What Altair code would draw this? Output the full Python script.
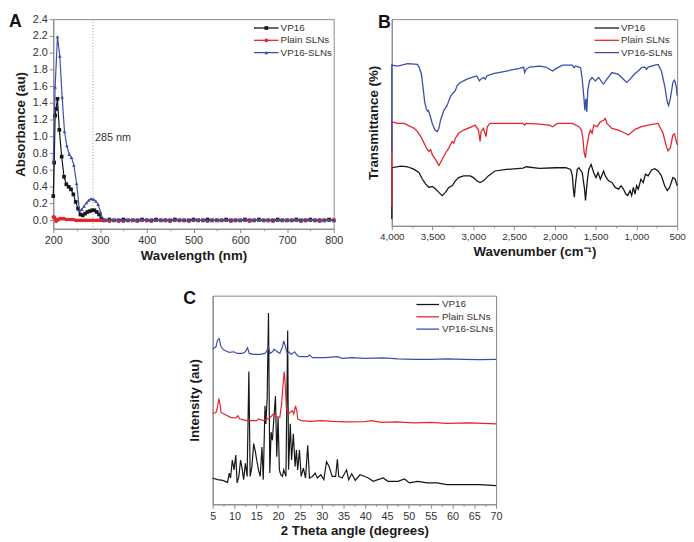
import altair as alt
import pandas as pd

SERIES = ["VP16", "Plain SLNs", "VP16-SLNs"]
COLORS = ["#161616", "#e4252b", "#3d4ea6"]
SHAPES = ["square", "circle", "triangle-up"]

# ---------------- Panel A : UV absorbance ----------------
TAIL_NM = [320, 330, 340, 350, 360, 370, 380, 390, 400, 410, 420, 430, 440, 450,
           460, 470, 480, 490, 500, 510, 520, 530, 540, 550, 560, 570, 580, 590,
           600, 610, 620, 630, 640, 650, 660, 670, 680, 690, 700, 710, 720, 730,
           740, 750, 760, 770, 780, 790, 800]

A_VP16_NM = [200, 202, 204, 206, 209, 213, 218, 223, 228, 233, 238, 243, 248,
             253, 258, 263, 268, 273, 278, 283, 288, 293, 298, 303, 308] + TAIL_NM
A_VP16_ABS = [0.29, 0.69, 1.25, 1.33, 1.45, 1.08, 0.76, 0.52, 0.43, 0.40, 0.37, 0.31, 0.22,
              0.14, 0.07, 0.06, 0.08, 0.10, 0.11, 0.12, 0.12, 0.10, 0.07, 0.02, 0.00,
              0.01, 0.00, 0.00, 0.01, 0.00, 0.00, 0.00,
              0.01, 0.00, 0.00, 0.01, 0.00, 0.00, 0.00,
              0.01, 0.00, 0.00, 0.00, 0.01, 0.00, 0.00,
              0.01, 0.00, 0.00, 0.00, 0.01, 0.00, 0.00,
              0.00, 0.01, 0.00, 0.00, 0.01, 0.00, 0.00,
              0.00, 0.01, 0.00, 0.00, 0.00, 0.01, 0.00,
              0.00, 0.01, 0.00, 0.00, 0.00, 0.01, 0.00]

A_PLAIN_NM = [200, 202, 204, 206, 208, 211, 214, 218, 223, 228, 233, 238, 243, 248,
              253, 258, 263, 268, 273, 278, 283, 288, 293, 298, 303, 308, 313] + TAIL_NM
A_PLAIN_ABS = [0.04, 0.04, 0.02, -0.01, 0.00, 0.01, 0.02, 0.02, 0.02, 0.01, 0.01, 0.01, 0.01, 0.00,
               0.00, 0.00, 0.00, 0.00, 0.00, 0.00, 0.00, 0.00, 0.00, 0.00, 0.00, 0.00, 0.00,
               -0.01, 0.00, -0.01, -0.01, 0.00, 0.00, -0.01,
               0.00, 0.00, -0.01, 0.00, 0.00, 0.00, -0.01,
               0.00, 0.00, 0.00, -0.01, 0.00, 0.00, 0.00,
               -0.01, 0.00, 0.00, 0.00, 0.00, -0.01, 0.00,
               0.00, 0.00, -0.01, 0.00, 0.00, 0.00, 0.00,
               -0.01, 0.00, 0.00, 0.00, 0.00, 0.00, -0.01,
               0.00, 0.00, 0.00, -0.01, 0.00, 0.00, 0.00]

A_SLN_NM = [200, 204, 209, 214, 219, 224, 229, 234, 239, 244, 250, 256, 261, 266,
            271, 276, 281, 286, 291, 296, 301, 306, 311] + TAIL_NM
A_SLN_ABS = [0.70, 1.59, 2.19, 1.96, 1.47, 1.06, 0.89, 0.79, 0.75, 0.66, 0.44, 0.12, 0.13, 0.17,
             0.21, 0.24, 0.26, 0.25, 0.23, 0.19, 0.10, 0.02, 0.00,
             0.01, 0.00, 0.01, 0.00, 0.00, 0.01, 0.00,
             0.00, 0.01, 0.00, 0.00, 0.00, 0.01, 0.00,
             0.00, 0.01, 0.00, 0.00, 0.00, 0.01, 0.00,
             0.00, 0.00, 0.01, 0.00, 0.00, 0.00, 0.01,
             0.00, 0.00, 0.01, 0.00, 0.00, 0.00, 0.01,
             0.00, 0.00, 0.00, 0.01, 0.00, 0.00, 0.00,
             0.01, 0.00, 0.00, 0.01, 0.00, 0.00, 0.00]

A_MARK_NM = [285]
A_MARK_LABEL_Y = [0.98]
A_MARK_LABEL = ["285 nm"]
A_Y_TICKS = [0.0, 0.2, 0.4, 0.6, 0.8, 1.0, 1.2, 1.4, 1.6, 1.8, 2.0, 2.2, 2.4]
A_X_TICKS = [200, 250, 300, 350, 400, 450, 500, 550, 600, 650, 700, 750, 800]

# ---------------- Panel B : FTIR ----------------
B_VP16_WN = [4000, 4000, 3887, 3806, 3725, 3665, 3624, 3584, 3543, 3503, 3462, 3422, 3382, 3341,
             3301, 3260, 3220, 3180, 3119, 3038, 2998, 2958, 2917, 2876, 2816, 2735, 2593, 2391,
             2351, 2190, 1987, 1866, 1806, 1785, 1773, 1761, 1745, 1725, 1705, 1664, 1636, 1624,
             1604, 1584, 1555, 1523, 1495, 1470, 1442, 1402, 1381, 1341, 1300, 1260, 1219, 1187,
             1159, 1130, 1106, 1078, 1058, 1037, 1017, 997, 977, 944, 916, 888, 855, 815, 774,
             734, 693, 653, 621, 592, 552, 524, 500]
B_VP16_T = [7, 59, 60.7, 60, 57.3, 54, 47.3, 42.3, 39, 40, 37.3, 34, 30.7, 34,
            39, 40.7, 45.7, 49, 50.7, 50.7, 49, 45.7, 44, 45.7, 50.7, 55.7, 57.3, 58.7,
            60, 58.3, 59, 59, 57.3, 50.7, 37.3, 29, 44, 57.3, 59, 54, 37.3, 25.7,
            44, 57.3, 62.3, 54, 49, 54, 47.3, 55.7, 50.7, 45.7, 44, 39, 37.3, 40.7,
            37.3, 32.3, 30.7, 35.7, 30.7, 39, 32.3, 40.7, 37.3, 47.3, 44, 52.3, 50.7, 56.7, 58,
            55.7, 50.7, 40.7, 35.7, 39, 49, 47.3, 40.7]

B_PLAIN_WN = [4000, 4000, 3927, 3846, 3806, 3766, 3725, 3685, 3644, 3604, 3563, 3543, 3523, 3503,
              3462, 3422, 3382, 3341, 3301, 3260, 3240, 3220, 3180, 3119, 3038, 2977, 2937, 2917,
              2905, 2876, 2856, 2844, 2828, 2796, 2593, 2391, 2371, 2351, 2190, 2069, 2028, 1967,
              1785, 1705, 1672, 1656, 1640, 1624, 1612, 1600, 1584, 1563, 1543, 1523, 1482, 1442,
              1402, 1381, 1361, 1300, 1219, 1138, 1098, 1017, 936, 855, 734, 673, 632, 612, 584,
              552, 532, 500]
B_PLAIN_T = [19, 105.7, 104, 104, 102.3, 100.7, 99, 95.7, 90.7, 84, 77.3, 75.7, 77.3, 72.3,
             67.3, 61.3, 67.3, 74, 79, 85.7, 84, 89, 94, 97.3, 100, 102.3, 97.3, 85.7,
             95.7, 99, 94, 90.7, 100.7, 104, 104, 104, 102.3, 104, 103.3, 102.3, 100.7, 104,
             104, 100.7, 97.3, 89, 74, 69, 79, 84, 92.3, 97.3, 94, 102.3, 100.7, 105.7,
             107.3, 109, 104, 99, 97.3, 94, 92.3, 98, 100.7, 102.3, 104, 94, 80.7, 76.3, 79,
             92.3, 93.3, 82.3]

B_SLN_WN = [4000, 4000, 3927, 3806, 3685, 3665, 3636, 3612, 3596, 3576, 3563, 3551, 3531, 3503,
            3470, 3442, 3422, 3402, 3361, 3321, 3281, 3256, 3240, 3220, 3200, 3159, 3078, 2998,
            2958, 2925, 2909, 2876, 2852, 2836, 2755, 2593, 2432, 2383, 2371, 2352, 2311, 2190,
            2109, 2028, 1987, 1907, 1785, 1765, 1745, 1684, 1664, 1644, 1632, 1620, 1608, 1596,
            1575, 1543, 1503, 1462, 1422, 1402, 1361, 1300, 1219, 1159, 1118, 1078, 1017, 977,
            936, 896, 876, 855, 774, 734, 693, 653, 621, 605, 584, 552, 532, 512, 500]
B_SLN_T = [74, 163.3, 162.3, 164.7, 164, 161.3, 154, 137.3, 125.7, 119, 116.7, 117.3, 112.3, 104,
           97.3, 95.7, 99, 107.3, 117.3, 122.3, 131.3, 134, 135.7, 137.3, 142.3, 145.7, 149, 151.3,
           152.3, 147.3, 149, 150.7, 149, 152.3, 154.7, 157.3, 160, 161.3, 155.7, 159, 161.3, 162.3,
           161.3, 157.3, 159.7, 163.3, 163.3, 160.7, 162.3, 160.7, 149, 130.7, 117.3, 129, 115.7, 137.3,
           147.3, 150.7, 147.3, 150.7, 145.7, 144, 149, 155.7, 154, 149, 145.7, 149, 154.7, 157.3,
           160.7, 161.3, 159, 161.3, 163.3, 164, 157.3, 142.3, 125.7, 122.3, 129, 145.7, 148, 142.3, 132.3]

B_X_TICKS = [500, 750, 1000, 1250, 1500, 1750, 2000, 2250, 2500, 2750, 3000, 3250, 3500, 3750, 4000]

# ---------------- Panel C : XRD ----------------
C_VP16_DEG = [5, 6.1, 7.3, 8.4, 8.8, 9.1, 9.5, 9.9, 10.3, 10.6, 11.0, 11.4, 11.8, 12.1, 12.5, 12.9,
              13.3, 13.6, 14.0, 14.4, 14.8, 15.1, 15.5, 15.9, 16.3, 16.6, 17.0, 17.2, 17.5, 17.8,
              18.1, 18.4, 18.7, 19.0, 19.4, 19.7, 20.0, 20.3, 20.6, 21.0, 21.3, 21.8, 22.2, 22.4,
              22.8, 23.1, 23.5, 23.9, 24.2, 24.5, 24.9, 25.3, 25.8, 26.3, 26.8, 27.2, 27.9, 28.5,
              29.0, 29.8, 30.5, 31.1, 31.7, 32.4, 33.2, 33.6, 33.9, 34.7, 35.7, 36.2, 36.9, 37.7,
              38.8, 39.9, 40.7, 41.8, 42.9, 44.1, 45.2, 47.5, 49.0, 50.1, 52.0, 54.2, 56.5, 58.7,
              62.5, 66.2, 70]
C_VP16_I = [26.7, 25, 24.3, 22.3, 31.7, 26.7, 45, 35, 50, 21.7, 28.3, 45, 35, 25, 41.7, 28.3,
            135, 28.3, 38.3, 61.7, 53.3, 45, 35, 28.3, 58.3, 25, 100, 81.7, 108.3, 194.3,
            31.7, 73.3, 65, 85, 110, 48.3, 88.3, 35, 30, 28.3, 35, 28.3, 176.7, 35,
            81.7, 45, 71.7, 38.3, 55, 35, 55, 28.3, 36.7, 26.7, 60, 26.7, 28.3, 31.7,
            26.7, 30, 25, 43.3, 38.3, 28.3, 28.3, 45.7, 28.3, 26.7, 35, 25, 31, 24.3,
            30, 28.3, 26.7, 23.3, 25, 26.7, 23.3, 23.3, 25.7, 21.7, 23.3, 21.7, 21.7, 20,
            20, 20, 19]

C_PLAIN_DEG = [5, 5.75, 6.1, 6.4, 6.7, 6.9, 7.6, 9.1, 10.3, 10.8, 11.2, 12.9, 15.1, 15.5, 16.6,
               18.1, 18.9, 19.6, 20.4, 20.8, 21.2, 21.4, 21.6, 21.9, 22.3, 22.7, 23.3, 23.6, 24.0,
               24.3, 24.5, 25.3, 27.2, 30.0, 32.4, 36.0, 39.9, 41.4, 43.7, 47.0, 51.2, 55.0, 58.7,
               64.0, 70]
C_PLAIN_I = [92.3, 93.3, 98.3, 107.3, 101.7, 93.3, 91.7, 88.3, 87.7, 90, 86.7, 85, 85, 86.7, 85,
             87.7, 91.7, 89, 88.3, 101.7, 125, 135, 125, 98.3, 91, 93.3, 95, 91.7, 100,
             95, 86.7, 85, 84.3, 85, 84.3, 83.7, 84, 85, 83.3, 83.7, 82.7, 83.3, 82.3,
             82.7, 81.7]

C_SLN_DEG = [5, 5.75, 6.1, 6.5, 6.9, 7.6, 8.8, 9.9, 10.6, 11.8, 12.5, 13.0, 13.4, 14.4, 15.9, 17.0,
             17.4, 17.8, 18.1, 18.7, 19.1, 19.6, 20.4, 21.0, 21.3, 21.7, 22.1, 22.5, 23.0, 23.8,
             24.3, 24.9, 26.8, 27.2, 27.9, 30.9, 33.6, 34.7, 37.0, 39.9, 44.0, 47.5, 51.0, 55.0,
             59.0, 62.5, 66.0, 70]
C_SLN_I = [157.7, 160, 166.7, 168.3, 160, 156.7, 154.3, 155, 153.3, 153.3, 155, 159, 153.3, 152.3,
           152.3, 153.3, 155.7, 160, 153.3, 155, 157.7, 155.7, 153.3, 160, 166, 160, 153.3, 155,
           152.3, 155, 151.7, 150, 150, 151.7, 149, 149, 150, 148.3, 149, 148.3, 148.7, 147.7,
           147.3, 147.3, 147.7, 147.3, 147.0, 147.3]

C_X_TICKS = [5, 7.5, 10, 12.5, 15, 17.5, 20, 22.5, 25, 27.5, 30, 32.5, 35, 37.5, 40, 42.5, 45,
             47.5, 50, 52.5, 55, 57.5, 60, 62.5, 65, 67.5, 70]

# ---------------- helpers ----------------
color_scale = alt.Scale(domain=SERIES, range=COLORS)
shape_scale = alt.Scale(domain=SERIES, range=SHAPES)
FONT = "Liberation Sans"


def make_df(xs_list, ys_list):
    rows = []
    for s, xs, ys in zip(SERIES, xs_list, ys_list):
        for i, (x, y) in enumerate(zip(xs, ys)):
            rows.append({"series": s, "x": x, "y": y, "i": i})
    return pd.DataFrame(rows)


def tick_size(major):
    return {"condition": {"test": f"datum.value % {major} !== 0", "value": 2}, "value": 4}


def x_axis(values, major, title, fmt, label_size):
    return alt.Axis(values=values, title=title, format=fmt,
                    labelExpr=f"datum.value % {major} === 0 ? datum.label : ''",
                    tickSize=tick_size(major), labelFontSize=label_size,
                    labelFlush=False, labelOverlap=False, labelPadding=2, titlePadding=3)


def series_lines(df, xenc, yenc, width, with_points=False):
    """One layer per series, so that later series are drawn on top."""
    layers = []
    for s in SERIES:
        base = alt.Chart(df).transform_filter(alt.datum.series == s)
        enc = dict(x=xenc, y=yenc, color=alt.Color("series:N", scale=color_scale, legend=None))
        layers.append(base.mark_line(strokeWidth=width).encode(order="i:Q", **enc))
        if with_points:
            layers.append(base.mark_point(filled=True, size=14, opacity=1).encode(
                shape=alt.Shape("series:N", scale=shape_scale, legend=None), **enc))
    return layers


def legend(x0, x1, xt, y0, y1, shapes=False):
    df = pd.DataFrame({"series": SERIES, "row": [0, 1, 2]})
    yenc = alt.Y("row:Q", scale=alt.Scale(domain=[0, 2], range=[y0, y1], zero=False, nice=False),
                 axis=None)
    cenc = alt.Color("series:N", scale=color_scale, legend=None)
    rule = alt.Chart(df).mark_rule(strokeWidth=1.3).encode(
        x=alt.value(x0), x2=alt.value(x1), y=yenc, color=cenc)
    text = alt.Chart(df).mark_text(align="left", baseline="middle", fontSize=10,
                                   color="#333", font=FONT).encode(
        x=alt.value(xt), y=yenc, text="series:N")
    layers = [rule]
    if shapes:
        pts = alt.Chart(df).mark_point(filled=True, size=14, opacity=1).encode(
            x=alt.value((x0 + x1) / 2), y=yenc, color=cenc,
            shape=alt.Shape("series:N", scale=shape_scale, legend=None))
        layers.append(pts)
    layers.append(text)
    return alt.layer(*layers)


def letter(t, x, y):
    return alt.Chart(pd.DataFrame({"t": [t]})).mark_text(
        fontSize=18, fontWeight="bold", align="left", baseline="top", color="#111", font=FONT
    ).encode(x=alt.value(x), y=alt.value(y), text="t:N")


# ---------------- Panel A ----------------
dfA = make_df([A_VP16_NM, A_PLAIN_NM, A_SLN_NM], [A_VP16_ABS, A_PLAIN_ABS, A_SLN_ABS])
xA = alt.X("x:Q", scale=alt.Scale(domain=[200, 800], nice=False, zero=False),
           axis=x_axis(A_X_TICKS, 100, "Wavelength (nm)", "d", 11))
yA = alt.Y("y:Q", scale=alt.Scale(domain=[-0.1, 2.4], nice=False, zero=False),
           axis=alt.Axis(values=A_Y_TICKS, format=".1f", title="Absorbance (au)",
                         tickSize=4, labelPadding=2, titlePadding=5, labelOverlap=False))
vline = alt.Chart(pd.DataFrame({"x": A_MARK_NM})).mark_rule(
    strokeDash=[1, 2], color="#999", strokeWidth=1).encode(x=xA)
vlabel = alt.Chart(pd.DataFrame({"x": A_MARK_NM, "y": A_MARK_LABEL_Y, "t": A_MARK_LABEL})).mark_text(
    align="left", dx=2, fontSize=11, color="#333", font=FONT).encode(x=xA, y=yA, text="t:N")
dataA = alt.layer(vline, *series_lines(dfA, xA, yA, 1.2, with_points=True), vlabel)
panelA = alt.layer(dataA, legend(204, 229, 231, 9, 34, shapes=True), letter("A", -45, -6)) \
    .resolve_scale(y="independent").properties(width=285, height=213)

# ---------------- Panel B ----------------
dfB = make_df([B_VP16_WN, B_PLAIN_WN, B_SLN_WN], [B_VP16_T, B_PLAIN_T, B_SLN_T])
xB = alt.X("x:Q", scale=alt.Scale(domain=[500, 4000], reverse=True, nice=False, zero=False),
           axis=x_axis(B_X_TICKS, 500, "Wavenumber (cm⁻¹)", ",d", 10))
yB = alt.Y("y:Q", scale=alt.Scale(domain=[0, 210], nice=False, zero=False),
           axis=alt.Axis(title="Transmittance (%)", labels=False, ticks=False, titlePadding=12))
dataB = alt.layer(*series_lines(dfB, xB, yB, 1.3))
panelB = alt.layer(dataB, legend(206, 231, 233, 9, 34), letter("B", -14, -5)) \
    .resolve_scale(y="independent").properties(width=290, height=210)

# ---------------- Panel C ----------------
dfC = make_df([C_VP16_DEG, C_PLAIN_DEG, C_SLN_DEG], [C_VP16_I, C_PLAIN_I, C_SLN_I])
xC = alt.X("x:Q", scale=alt.Scale(domain=[5, 70], nice=False, zero=False),
           axis=x_axis(C_X_TICKS, 5, "2 Theta angle (degrees)", "d", 11))
yC = alt.Y("y:Q", scale=alt.Scale(domain=[0, 212], nice=False, zero=False),
           axis=alt.Axis(title="Intensity (au)", labels=False, ticks=False, titlePadding=11))
dataC = alt.layer(*series_lines(dfC, xC, yC, 1.2))
panelC = alt.layer(dataC, legend(207, 230, 233, 9, 34), letter("C", -30, -6)) \
    .resolve_scale(y="independent").properties(width=288, height=212)

spacer = alt.Chart(pd.DataFrame({"v": [0]})).mark_point(opacity=0).encode(
    x=alt.X("v:Q", axis=None), y=alt.Y("v:Q", axis=None)
).properties(width=162, height=1, view=alt.ViewBackground(strokeOpacity=0))

top = alt.hconcat(panelA, panelB, spacing=59, bounds="flush")
bottom = alt.hconcat(spacer, panelC, spacing=0, bounds="flush")

chart = alt.vconcat(top, bottom, spacing=27).properties(
    padding={"left": 0, "top": 0, "right": 0, "bottom": 0}
).configure(font=FONT).configure_view(
    stroke="#888", strokeWidth=1
).configure_axis(
    grid=False, domainColor="#888", tickColor="#888", labelColor="#333",
    labelFont=FONT, titleFont=FONT, labelFontSize=11, titleFontSize=13.5,
    titleFontWeight="bold", titleColor="#1a1a1a"
)

chart.save("out.html", embed_options={"renderer": "svg", "actions": False})
